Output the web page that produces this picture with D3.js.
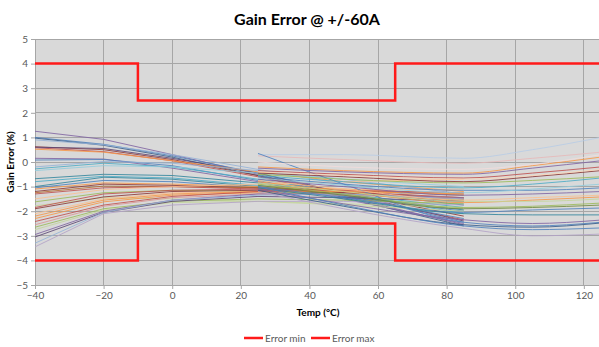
<!DOCTYPE html>
<html>
<head>
<meta charset="utf-8">
<script src="https://cdn.jsdelivr.net/npm/d3@7"></script>
<style>
  html, body { margin: 0; padding: 0; background: #ffffff; }
  svg { display: block; font-family: Lato, "Open Sans", "Liberation Sans", sans-serif; }
</style>
</head>
<body>
<svg id="chart" width="599" height="347"></svg>
<script>
// ---- data ----
const chartTitle = "Gain Error @ +/-60A";
const xTicks = [-40, -20, 0, 20, 40, 60, 80, 100, 120];
const yTicks = [-5, -4, -3, -2, -1, 0, 1, 2, 3, 4, 5];

const limitTemps = [-40, -10, -10, 65, 65, 125];
const errorMax = [4, 4, 2.5, 2.5, 4, 4];
const errorMin = [-4, -4, -2.5, -2.5, -4, -4];
const legendLabels = ["Error min", "Error max"];

// group A: measured from -40 to 85 °C
const tempsA = [-40, -20, 0, 25, 50, 85];
const seriesA = [
  [1.25, 0.92, 0.3, -0.5, -1.4, -2.55],
  [1.0, 0.72, 0.25, -0.45, -1.3, -2.45],
  [0.97, 0.68, 0.2, -0.55, -1.45, -2.6],
  [0.9, 0.7, 0.3, -0.3, -0.9, -1.7],
  [0.62, 0.5, 0.1, -0.55, -1.25, -2.2],
  [0.58, 0.42, 0.05, -0.6, -1.35, -2.35],
  [0.6, 0.55, 0.15, -0.45, -1.25, -2.4],
  [0.52, 0.4, 0.05, -0.4, -0.8, -1.2],
  [0.15, 0.12, -0.25, -0.8, -1.5, -2.5],
  [0.08, 0.1, -0.15, -0.75, -1.4, -2.3],
  [-0.2, 0.02, -0.05, -0.35, -0.7, -1.3],
  [-0.28, -0.05, -0.2, -0.7, -1.25, -2.1],
  [-0.35, -0.15, -0.2, -0.45, -0.7, -1.0],
  [-0.68, -0.5, -0.55, -0.85, -1.2, -1.75],
  [-0.8, -0.58, -0.65, -0.95, -1.3, -1.85],
  [-1.0, -0.62, -0.7, -1.0, -1.35, -1.95],
  [-1.05, -0.75, -0.8, -1.05, -1.4, -2.0],
  [-1.1, -0.85, -0.9, -1.0, -1.1, -1.3],
  [-1.2, -0.9, -0.95, -1.05, -1.2, -1.5],
  [-1.25, -0.98, -1.0, -1.05, -1.15, -1.35],
  [-1.3, -1.05, -1.0, -1.1, -1.25, -1.6],
  [-1.5, -1.12, -1.0, -0.9, -0.8, -0.7],
  [-1.62, -1.25, -1.15, -1.2, -1.3, -1.55],
  [-1.78, -1.45, -1.5, -1.6, -1.75, -2.0],
  [-1.85, -1.3, -1.15, -1.1, -1.2, -1.45],
  [-1.9, -1.42, -1.2, -1.15, -1.25, -1.5],
  [-2.1, -1.5, -1.25, -1.2, -1.15, -1.1],
  [-2.2, -1.55, -1.3, -1.2, -1.2, -1.3],
  [-2.3, -1.62, -1.35, -1.25, -1.3, -1.45],
  [-2.42, -1.75, -1.4, -1.2, -1.15, -1.25],
  [-2.55, -1.8, -1.45, -1.3, -1.35, -1.5],
  [-2.65, -1.9, -1.6, -1.5, -1.55, -1.7],
  [-2.75, -1.95, -1.65, -1.6, -1.7, -1.85],
  [-2.95, -2.0, -1.55, -1.3, -1.3, -1.45],
  [-3.05, -2.05, -1.6, -1.4, -1.45, -1.6],
  [-3.45, -2.1, -1.75, -1.6, -1.6, -1.75],
  [-3.3, -2.05, -1.55, -1.35, -1.3, -1.5]
];
const colorsA = [
  "#8064A2", "#4F81BD", "#385D8A", "#95B3D7", "#8C3836", "#C0504D", "#5C4776",
  "#F79646", "#8064A2", "#4F81BD", "#95B3D7", "#4BACC6", "#93CDDD", "#31859C",
  "#4BACC6", "#31859C", "#4F81BD", "#F79646", "#8C3836", "#B66D31", "#C0504D",
  "#FAC090", "#9BBB59", "#C3D69B", "#C0504D", "#8C3836", "#FAC090", "#F79646",
  "#F79646", "#C0504D", "#D99694", "#9BBB59", "#C3D69B", "#8064A2", "#5C4776",
  "#B3A2C7", "#95B3D7"
];

// group B: measured from 25 to 125 °C
const tempsB = [25, 50, 85, 105, 125];
const seriesB = [
  [0.3, 0.3, 0.15, 0.5, 1.0],
  [0.25, 0.1, -0.05, 0.15, 0.4],
  [0.35, -0.9, -2.45, -2.6, -2.45],
  [-0.2, -0.35, -0.45, -0.15, 0.2],
  [-0.25, -0.4, -0.5, -0.25, 0.05],
  [-0.35, -0.5, -0.65, -0.45, -0.2],
  [-0.45, -0.6, -0.8, -0.6, -0.35],
  [-0.5, -0.7, -0.85, -0.75, -0.6],
  [-0.55, -0.8, -1.05, -0.9, -0.65],
  [-0.6, -0.9, -1.15, -1.15, -1.05],
  [-0.7, -1.0, -1.35, -1.3, -1.2],
  [-0.75, -1.1, -1.55, -1.45, -1.35],
  [-0.8, -1.2, -1.65, -1.55, -1.42],
  [-0.9, -1.3, -1.85, -1.8, -1.67],
  [-0.95, -1.35, -1.9, -1.85, -1.75],
  [-1.0, -1.45, -2.05, -1.95, -1.87],
  [-1.05, -1.5, -2.1, -2.15, -2.15],
  [-1.1, -1.7, -2.35, -2.5, -2.36],
  [-1.15, -1.8, -2.55, -2.65, -2.48],
  [-1.0, -1.75, -2.6, -2.75, -2.68],
  [-1.2, -1.9, -2.7, -3.0, -2.93],
  [0.0, -0.2, -0.3, -0.1, 0.3],
  [-0.4, -0.55, -0.7, -0.55, -0.3],
  [-0.65, -0.95, -1.25, -1.1, -0.9],
  [-0.85, -1.2, -1.6, -1.6, -1.5]
];
const colorsB = [
  "#B9CDE5", "#E6B9B8", "#4F81BD", "#F79646", "#8064A2", "#C0504D", "#8C3836",
  "#9BBB59", "#4BACC6", "#4F81BD", "#8064A2", "#FAC090", "#F79646", "#9BBB59",
  "#71893F", "#4F81BD", "#31859C", "#8064A2", "#385D8A", "#4F81BD", "#B3A2C7",
  "#F2DCDB", "#FCD5B5", "#93CDDD", "#C3D69B"
];

// ---- layout ----
const svg = d3.select("#chart");
const plot = { left: 35, right: 601, top: 39, bottom: 285 };

const x = d3.scaleLinear().domain([-40, 125]).range([plot.left, plot.right]);
const y = d3.scaleLinear().domain([-5, 5]).range([plot.bottom, plot.top]);

svg.append("defs").append("clipPath").attr("id", "clip")
  .append("rect")
  .attr("x", plot.left).attr("y", plot.top)
  .attr("width", plot.right - plot.left).attr("height", plot.bottom - plot.top);

svg.append("rect")
  .attr("x", plot.left).attr("y", plot.top)
  .attr("width", plot.right - plot.left).attr("height", plot.bottom - plot.top)
  .attr("fill", "#d9d9d9");

// gridlines
const grid = svg.append("g");
grid.selectAll("line.v").data(xTicks).join("line")
  .attr("x1", d => x(d)).attr("x2", d => x(d))
  .attr("y1", plot.top).attr("y2", plot.bottom)
  .attr("stroke", "#a6a6a6").attr("stroke-width", 1)
  .attr("shape-rendering", "crispEdges");
grid.selectAll("line.h").data(yTicks).join("line")
  .attr("x1", plot.left).attr("x2", plot.right)
  .attr("y1", d => y(d)).attr("y2", d => y(d))
  .attr("stroke", "#a6a6a6").attr("stroke-width", 1)
  .attr("shape-rendering", "crispEdges");

// axes
const xAxis = d3.axisBottom(x).tickValues(xTicks).tickSize(4).tickPadding(3).tickFormat(d3.format("d"));
const yAxis = d3.axisLeft(y).tickValues(yTicks).tickSize(4).tickPadding(3).tickFormat(d3.format("d"));

const gx = svg.append("g").attr("transform", `translate(0,${plot.bottom})`).call(xAxis);
const gy = svg.append("g").attr("transform", `translate(${plot.left},0)`).call(yAxis);
[gx, gy].forEach(g => {
  g.select(".domain").attr("stroke", "#a6a6a6");
  g.selectAll(".tick line").attr("stroke", "#a6a6a6");
  g.selectAll(".tick text").attr("fill", "#595959").style("font-size", "10px")
    .style("font-family", "Lato, 'Open Sans', sans-serif");
});
gx.select(".domain").remove();
gx.append("line").attr("x1", plot.left).attr("x2", plot.right).attr("y1", 0.5).attr("y2", 0.5)
  .attr("stroke", "#a6a6a6");

// data lines
const lineA = d3.line().x((d, i) => x(tempsA[i])).y(d => y(d)).curve(d3.curveLinear);
const lineB = d3.line().x((d, i) => x(tempsB[i])).y(d => y(d)).curve(d3.curveMonotoneX);

const dataG = svg.append("g").attr("clip-path", "url(#clip)");
dataG.selectAll("path.a").data(seriesA).join("path")
  .attr("d", lineA)
  .attr("fill", "none")
  .attr("stroke", (d, i) => colorsA[i % colorsA.length])
  .attr("stroke-width", 1)
  .attr("stroke-opacity", 0.85);
dataG.selectAll("path.b").data(seriesB).join("path")
  .attr("d", lineB)
  .attr("fill", "none")
  .attr("stroke", (d, i) => colorsB[i % colorsB.length])
  .attr("stroke-width", 1)
  .attr("stroke-opacity", 0.85);

// limits
const limLine = d3.line().x((d, i) => x(limitTemps[i])).y(d => y(d));
[errorMin, errorMax].forEach(arr => {
  dataG.append("path").attr("d", limLine(arr))
    .attr("fill", "none").attr("stroke", "#ff1a1a").attr("stroke-width", 2.5)
    .attr("stroke-linejoin", "miter");
});

// title
svg.append("text").attr("x", 307).attr("y", 25).attr("text-anchor", "middle")
  .style("font-size", "16px").style("font-weight", "bold").attr("fill", "#000")
  .text(chartTitle);

// axis titles
svg.append("text").attr("x", 318).attr("y", 316).attr("text-anchor", "middle")
  .style("font-size", "10px").style("font-weight", "bold").attr("fill", "#000")
  .text("Temp (°C)");
svg.append("text").attr("transform", `translate(14,162) rotate(-90)`).attr("text-anchor", "middle")
  .style("font-size", "10px").style("font-weight", "bold").attr("fill", "#000")
  .text("Gain Error (%)");

// legend
const legendX = [244, 311];
legendLabels.forEach((lab, i) => {
  svg.append("line").attr("x1", legendX[i]).attr("x2", legendX[i] + 19)
    .attr("y1", 338).attr("y2", 338)
    .attr("stroke", "#ff1a1a").attr("stroke-width", 2.5);
  svg.append("text").attr("x", legendX[i] + 21).attr("y", 341.5)
    .style("font-size", "10px").attr("fill", "#595959").text(lab);
});
</script>
</body>
</html>
